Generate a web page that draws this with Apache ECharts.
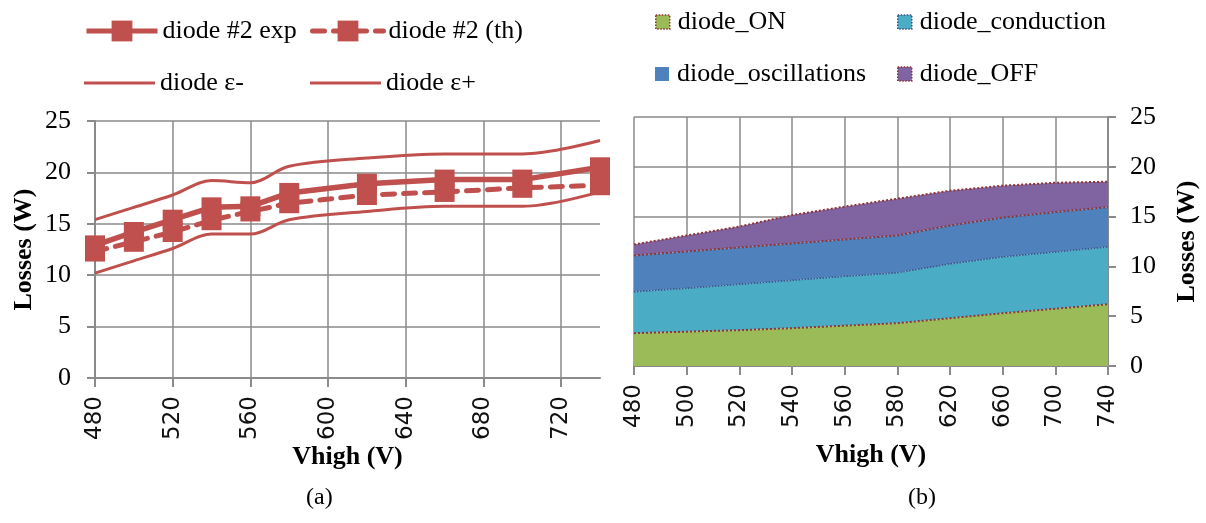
<!DOCTYPE html>
<html>
<head>
<meta charset="utf-8">
<script src="https://cdn.jsdelivr.net/npm/echarts@6/dist/echarts.min.js"></script>
<style>
  html, body { margin: 0; padding: 0; background: #fff; }
  #chart { width: 1206px; height: 523px; }
</style>
</head>
<body>
<div id="chart"></div>
<script>
// Vhigh sweep (V), shared by both panels
const vhigh = [480, 500, 520, 540, 560, 580, 620, 660, 700, 740];

// (a) diode #2 losses (W): measured, theoretical and error band
const diodeExp = [12.9, 14.2, 15.4, 16.6, 16.7, 18.0, 18.9, 19.3, 19.3, 20.5];
const diodeTh = [12.3, 13.25, 14.2, 15.35, 16.2, 17.0, 17.8, 18.1, 18.5, 18.75];
const epsMinus = [10.2, 11.4, 12.6, 14.0, 14.0, 15.4, 16.2, 16.7, 16.7, 18.1];
const epsPlus = [15.4, 16.6, 17.8, 19.2, 19.0, 20.6, 21.4, 21.8, 21.8, 23.1];

// (b) loss breakdown (W), stacked
const diodeOn = [3.3, 3.45, 3.6, 3.8, 4.05, 4.3, 4.8, 5.3, 5.75, 6.2];
const diodeConduction = [4.15, 4.35, 4.6, 4.8, 4.95, 5.05, 5.45, 5.65, 5.7, 5.75];
const diodeOscillations = [3.65, 3.7, 3.7, 3.7, 3.7, 3.75, 3.85, 3.95, 4.0, 4.0];
const diodeOff = [1.1, 1.6, 2.1, 2.85, 3.3, 3.7, 3.5, 3.2, 2.95, 2.55];

const serif = '"Liberation Serif", "Times New Roman", serif';
const sans = '"DejaVu Sans", sans-serif';
const red = '#C0504D';
const gridGray = '#8a8a8a';
const borderRed = '#8e3434';

const pairs = arr => vhigh.map((v, i) => [v, arr[i]]);

const legendText = { fontFamily: serif, fontSize: 26, color: '#000', lineHeight: 26 };

// legend entry: thick line with a square marker
function markerLegend(name, left, top) {
  return {
    data: [name], left: left, top: top, padding: 0,
    itemWidth: 71, itemHeight: 26, itemGap: 0,
    lineStyle: { width: 5 },
    textStyle: legendText, selectedMode: false
  };
}
// legend entry: plain line (drawn as a thin bar)
function plainLegend(name, left, top) {
  return {
    data: [{ name: name, itemStyle: { color: red } }], left: left, top: top, padding: 0,
    icon: 'rect', itemWidth: 71, itemHeight: 3, itemGap: 0,
    textStyle: legendText, selectedMode: false
  };
}
// legend entry: filled square with optional dotted border
function boxLegend(name, fill, border, left, top) {
  const item = { name: name, itemStyle: { color: fill } };
  if (border) {
    item.itemStyle.borderColor = border;
    item.itemStyle.borderWidth = 1.5;
    item.itemStyle.borderType = 'dotted';
  }
  return {
    data: [item], left: left, top: top, padding: 0, icon: 'rect',
    itemWidth: 14, itemHeight: 14, textStyle: Object.assign({}, legendText, { padding: [0, 0, 0, 3] }),
    selectedMode: false
  };
}

const axisLineStyle = { color: gridGray, width: 2 };
const splitStyle = { color: gridGray, width: 1.5 };
const titleFont = { fontFamily: serif, fontSize: 26, fontWeight: 'bold', color: '#000' };

const option = {
  backgroundColor: '#fff',
  animation: false,
  legend: [
    markerLegend('diode #2 exp', 84, 18),
    markerLegend('diode #2 (th)', 310, 18),
    plainLegend('diode ε-', 84, 70),
    plainLegend('diode ε+', 310, 70),
    boxLegend('diode_ON', '#9BBB59', borderRed, 655, 9),
    boxLegend('diode_conduction', '#4BACC6', '#3d4f86', 897, 9),
    boxLegend('diode_oscillations', '#4F81BD', null, 655, 61),
    boxLegend('diode_OFF', '#8064A2', borderRed, 897, 61)
  ],
  grid: [
    { left: 95, top: 121, width: 505, height: 257, outerBoundsMode: 'none', containLabel: false },
    { left: 634, top: 117, width: 474, height: 249, outerBoundsMode: 'none', containLabel: false }
  ],
  xAxis: [
    {
      gridIndex: 0, type: 'value', min: 480, max: 740, interval: 40,
      name: 'Vhigh (V)', nameLocation: 'middle', nameGap: 66, nameMoveOverlap: false,
      nameTextStyle: titleFont,
      axisLine: { show: true, lineStyle: axisLineStyle },
      axisTick: { show: true, length: 9, lineStyle: axisLineStyle },
      axisLabel: { rotate: 90, margin: 18, fontFamily: sans, fontSize: 23, color: '#111', showMaxLabel: false },
      splitLine: { show: true, showMaxLine: false, lineStyle: splitStyle }
    },
    {
      gridIndex: 1, type: 'category', data: vhigh.map(String), boundaryGap: false,
      name: 'Vhigh (V)', nameLocation: 'middle', nameGap: 76, nameMoveOverlap: false,
      nameTextStyle: titleFont,
      axisLine: { show: true, lineStyle: axisLineStyle },
      axisTick: { show: true, length: 9, alignWithLabel: true, lineStyle: axisLineStyle },
      axisLabel: { rotate: 90, margin: 18, fontFamily: sans, fontSize: 23, color: '#111', interval: 0 },
      splitLine: { show: true, lineStyle: splitStyle }
    }
  ],
  yAxis: [
    {
      gridIndex: 0, type: 'value', min: 0, max: 25, interval: 5,
      name: 'Losses (W)', nameLocation: 'middle', nameGap: 58, nameMoveOverlap: false,
      nameTextStyle: titleFont,
      axisLine: { show: true, lineStyle: axisLineStyle },
      axisTick: { show: true, length: 8, lineStyle: axisLineStyle },
      axisLabel: { margin: 24, fontFamily: serif, fontSize: 26, color: '#000' },
      splitLine: { show: true, lineStyle: splitStyle }
    },
    {
      gridIndex: 1, type: 'value', position: 'right', min: 0, max: 25, interval: 5,
      name: 'Losses (W)', nameLocation: 'middle', nameGap: 66, nameMoveOverlap: false,
      nameTextStyle: titleFont,
      axisLine: { show: true, lineStyle: axisLineStyle },
      axisTick: { show: true, length: 8, lineStyle: axisLineStyle },
      axisLabel: { margin: 22, fontFamily: serif, fontSize: 26, color: '#000' },
      splitLine: { show: true, lineStyle: splitStyle }
    }
  ],
  graphic: [
    { type: 'text', left: 306, top: 486, style: { text: '(a)', font: '24px ' + serif, fill: '#000' } },
    { type: 'text', left: 908, top: 486, style: { text: '(b)', font: '24px ' + serif, fill: '#000' } }
  ],
  series: [
    {
      name: 'diode ε-', type: 'line', xAxisIndex: 0, yAxisIndex: 0,
      data: pairs(epsMinus), smooth: 0.35, symbol: 'none',
      itemStyle: { color: red }, lineStyle: { color: red, width: 3 }
    },
    {
      name: 'diode ε+', type: 'line', xAxisIndex: 0, yAxisIndex: 0,
      data: pairs(epsPlus), smooth: 0.35, symbol: 'none',
      itemStyle: { color: red }, lineStyle: { color: red, width: 3 }
    },
    {
      name: 'diode #2 (th)', type: 'line', xAxisIndex: 0, yAxisIndex: 0,
      data: pairs(diodeTh), symbol: 'rect', symbolSize: 20,
      itemStyle: { color: red }, lineStyle: { color: red, width: 5, type: [12, 9], cap: 'round' }
    },
    {
      name: 'diode #2 exp', type: 'line', xAxisIndex: 0, yAxisIndex: 0,
      data: pairs(diodeExp), symbol: 'rect', symbolSize: 20,
      itemStyle: { color: red }, lineStyle: { color: red, width: 5.5 }
    },
    {
      name: 'diode_ON', type: 'line', xAxisIndex: 1, yAxisIndex: 1, stack: 'losses',
      data: diodeOn, symbol: 'none', z: 6,
      itemStyle: { color: '#9BBB59' }, areaStyle: { color: '#9BBB59', opacity: 1 },
      lineStyle: { color: borderRed, width: 2, type: 'dotted' }
    },
    {
      name: 'diode_conduction', type: 'line', xAxisIndex: 1, yAxisIndex: 1, stack: 'losses',
      data: diodeConduction, symbol: 'none', z: 5,
      itemStyle: { color: '#4BACC6' }, areaStyle: { color: '#4BACC6', opacity: 1 },
      lineStyle: { color: '#3d4f86', width: 1.5, type: 'dotted' }
    },
    {
      name: 'diode_oscillations', type: 'line', xAxisIndex: 1, yAxisIndex: 1, stack: 'losses',
      data: diodeOscillations, symbol: 'none', z: 4,
      itemStyle: { color: '#4F81BD' }, areaStyle: { color: '#4F81BD', opacity: 1 },
      lineStyle: { color: borderRed, width: 2, type: 'dotted' }
    },
    {
      name: 'diode_OFF', type: 'line', xAxisIndex: 1, yAxisIndex: 1, stack: 'losses',
      data: diodeOff, symbol: 'none', z: 3,
      itemStyle: { color: '#8064A2' }, areaStyle: { color: '#8064A2', opacity: 1 },
      lineStyle: { color: borderRed, width: 2, type: 'dotted' }
    }
  ]
};

const chart = echarts.init(document.getElementById('chart'), null, { renderer: 'canvas' });
chart.setOption(option);
</script>
</body>
</html>
